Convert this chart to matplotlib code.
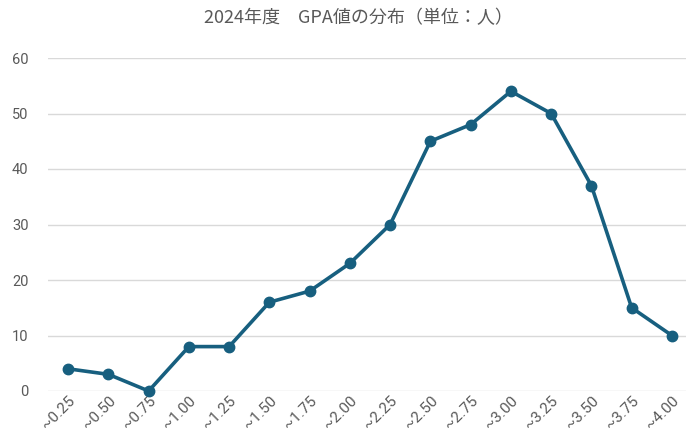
import matplotlib as mpl
mpl.use('Agg')
import matplotlib.pyplot as plt
import matplotlib.transforms as mtransforms

# GPA bins and headcounts
labels = ['~0.25', '~0.50', '~0.75', '~1.00', '~1.25', '~1.50', '~1.75', '~2.00',
          '~2.25', '~2.50', '~2.75', '~3.00', '~3.25', '~3.50', '~3.75', '~4.00']
counts = [4, 3, 0, 8, 8, 16, 18, 23, 30, 45, 48, 54, 50, 37, 15, 10]

plt.rcParams['font.family'] = ['Roboto', 'Noto Sans CJK JP', 'DejaVu Sans']

fig = plt.figure(figsize=(6.86, 4.43), dpi=100)
ax = fig.add_axes([48 / 686, 52 / 443, 638 / 686, 333 / 443])

x = list(range(len(labels)))
ax.plot(x, counts, color='#175F7F', linewidth=2.6, marker='o', markersize=7.5,
        zorder=3, clip_on=False)

ax.set_xlim(-0.5, 15.35)
ax.set_ylim(0, 60)
ax.set_yticks(range(0, 61, 10))
ax.set_xticks(x)
ax.set_xticklabels(labels, rotation=45, ha='right', va='top',
                   rotation_mode='anchor', fontsize=11)

# nudge the rotated labels a bit to the right
shift = mtransforms.ScaledTranslation(5 / 100, 0, fig.dpi_scale_trans)
for lab in ax.get_xticklabels():
    lab.set_transform(lab.get_transform() + shift)

ax.grid(axis='y', color='#D9D9D9', linewidth=1)
ax.set_axisbelow(True)
for s in ax.spines.values():
    s.set_visible(False)
ax.tick_params(length=0, colors='#595959')
ax.tick_params(axis='y', pad=14, labelsize=10.5)
ax.tick_params(axis='x', pad=2)

fig.text(0.522, 1 - 18 / 443, '2024年度　GPA値の分布（単位：人）',
         ha='center', va='center', fontsize=13, color='#595959',
         family=['Noto Sans CJK JP', 'DejaVu Sans'])

fig.savefig('out.png', dpi=100)
